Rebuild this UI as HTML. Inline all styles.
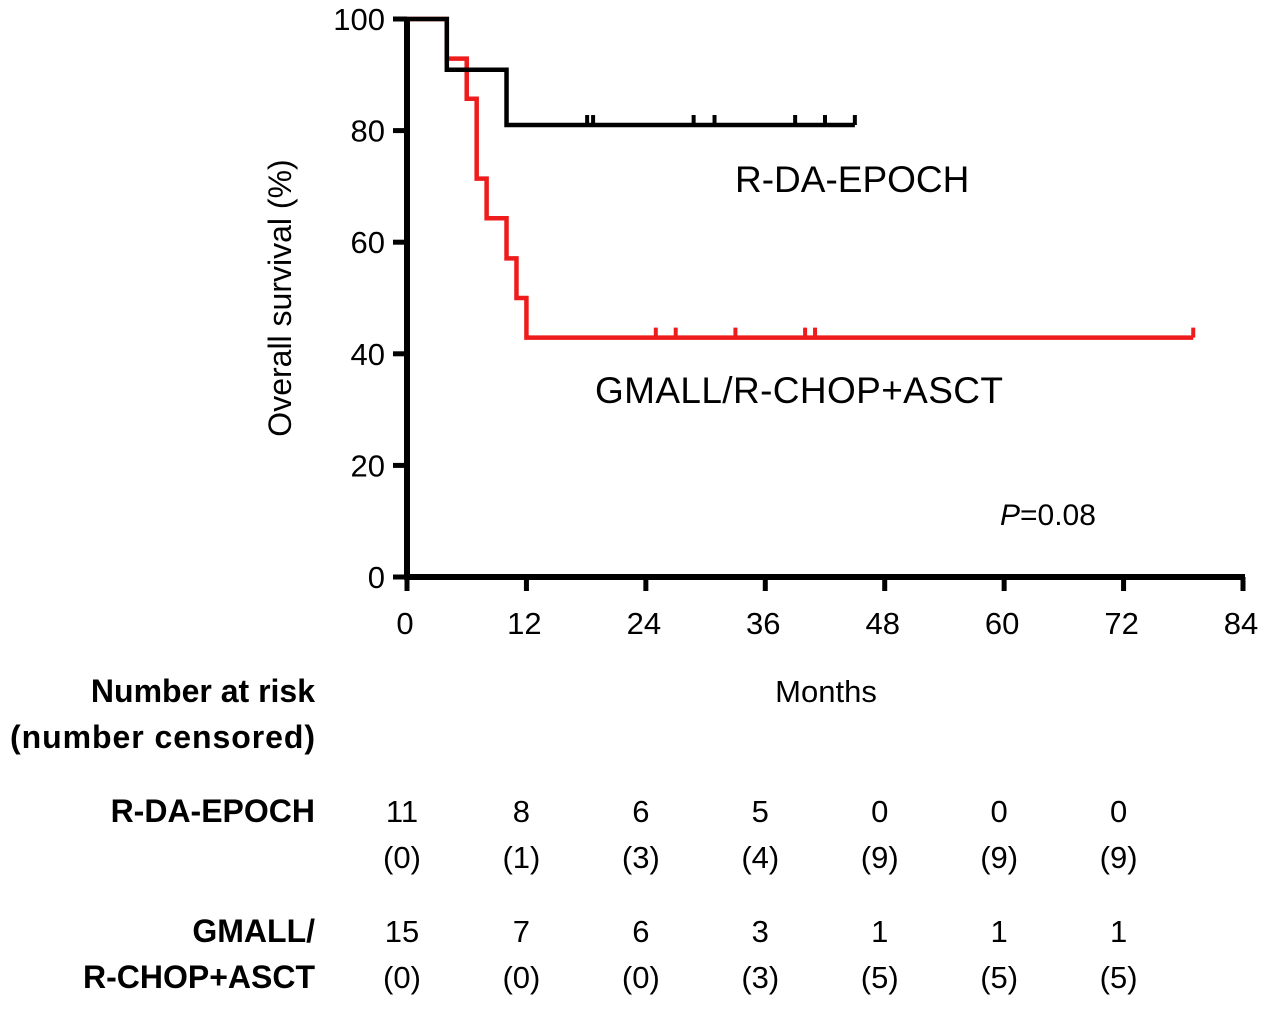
<!DOCTYPE html>
<html><head><meta charset="utf-8"><style>
body{margin:0;background:#fff;}
svg text{font-family:"Liberation Sans",sans-serif;fill:#000;}
</style></head><body>
<svg id="chart" width="1280" height="1021" viewBox="0 0 1280 1021" xmlns="http://www.w3.org/2000/svg">
<g id="plot"></g>
<text transform="translate(291,298) rotate(-90)" text-anchor="middle" font-size="32">Overall survival (%)</text>
<text x="826" y="702" text-anchor="middle" font-size="31">Months</text>
<text x="735" y="192" font-size="37">R-DA-EPOCH</text>
<text x="595" y="403" font-size="37" textLength="408">GMALL/R-CHOP+ASCT</text>
<text x="1000" y="525" font-size="30"><tspan font-style="italic">P</tspan>=0.08</text>
<text x="315" y="702" text-anchor="end" font-size="32" font-weight="bold">Number at risk</text>
<text x="315" y="748" text-anchor="end" font-size="32" font-weight="bold" textLength="305">(number censored)</text>
<text x="315" y="822" text-anchor="end" font-size="32" font-weight="bold">R-DA-EPOCH</text>
<text x="315" y="942" text-anchor="end" font-size="32" font-weight="bold">GMALL/</text>
<text x="315" y="988" text-anchor="end" font-size="32" font-weight="bold">R-CHOP+ASCT</text>
<g id="risk"></g>
</svg>
<script>
const xTicks=[0,12,24,36,48,60,72,84];
const yTicks=[0,20,40,60,80,100];
const blackTimes=[0,4,10,45];
const blackSurv=[100,90.9,81,81];
const blackCensor=[18.1,18.7,28.8,30.9,39,42,45];
const redTimes=[0,4,6,7,8,10,11,12,79];
const redSurv=[100,92.9,85.7,71.4,64.3,57.1,50,42.9,42.9];
const redCensor=[25,27,33,40,41,79];
const riskTimes=[0,12,24,36,48,60,72];
const riskBlack=["11","8","6","5","0","0","0"];
const censBlack=["(0)","(1)","(3)","(4)","(9)","(9)","(9)"];
const riskRed=["15","7","6","3","1","1","1"];
const censRed=["(0)","(0)","(0)","(3)","(5)","(5)","(5)"];
const NS="http://www.w3.org/2000/svg";
const X=m=>407+m*(1243-407)/84;
const Y=v=>577-v*(577-19)/100;
const plot=document.getElementById('plot');
function mk(t,a){const e=document.createElementNS(NS,t);for(const k in a)e.setAttribute(k,a[k]);return e;}
function curve(times,surv,cens,color,name){
  let d=`M${X(times[0])},${Y(surv[0])}`;
  for(let i=1;i<times.length;i++){d+=` H${X(times[i])} V${Y(surv[i])}`;}
  const p=mk('path',{d:d,fill:'none',stroke:color,'stroke-width':4.5});
  
  
  plot.appendChild(p);
  cens.forEach(c=>{
    let s=surv[0];for(let i=0;i<times.length;i++){if(times[i]<=c)s=surv[i];}
    const l=mk('line',{x1:X(c),x2:X(c),y1:Y(s)-10,y2:Y(s),stroke:color,'stroke-width':4});
    
    
    plot.appendChild(l);
  });
}
curve(redTimes,redSurv,redCensor,'#ee1c1c','gmall');
curve(blackTimes,blackSurv,blackCensor,'#000','r-da-epoch');
const ax=mk('path',{d:`M${X(0)},${Y(100)-2} V${Y(0)} H${X(84)+2}`,fill:'none',stroke:'#000','stroke-width':6});


plot.appendChild(ax);
xTicks.forEach(t=>{
  const l=mk('line',{x1:X(t),x2:X(t),y1:Y(0),y2:Y(0)+14,stroke:'#000','stroke-width':5});
  
  
  plot.appendChild(l);
  const tx=mk('text',{x:X(t)-2,y:634,'text-anchor':'middle','font-size':31});
  
  
  tx.textContent=t;plot.appendChild(tx);
});
yTicks.forEach(t=>{
  const l=mk('line',{x1:X(0)-14,x2:X(0),y1:Y(t),y2:Y(t),stroke:'#000','stroke-width':5});
  
  
  plot.appendChild(l);
  const tx=mk('text',{x:385,y:Y(t)+11,'text-anchor':'end','font-size':31});
  
  
  tx.textContent=t;plot.appendChild(tx);
});
const risk=document.getElementById('risk');
const rows=[[riskBlack,822,'risk-r-da-epoch'],[censBlack,868,'censored-r-da-epoch'],[riskRed,942,'risk-gmall'],[censRed,988,'censored-gmall']];
rows.forEach(([arr,y,name])=>{
  arr.forEach((v,i)=>{
    const tx=mk('text',{x:X(riskTimes[i])-5,y:y,'text-anchor':'middle','font-size':31});
    
    
    tx.textContent=v;risk.appendChild(tx);
  });
});
</script>
</body></html>
